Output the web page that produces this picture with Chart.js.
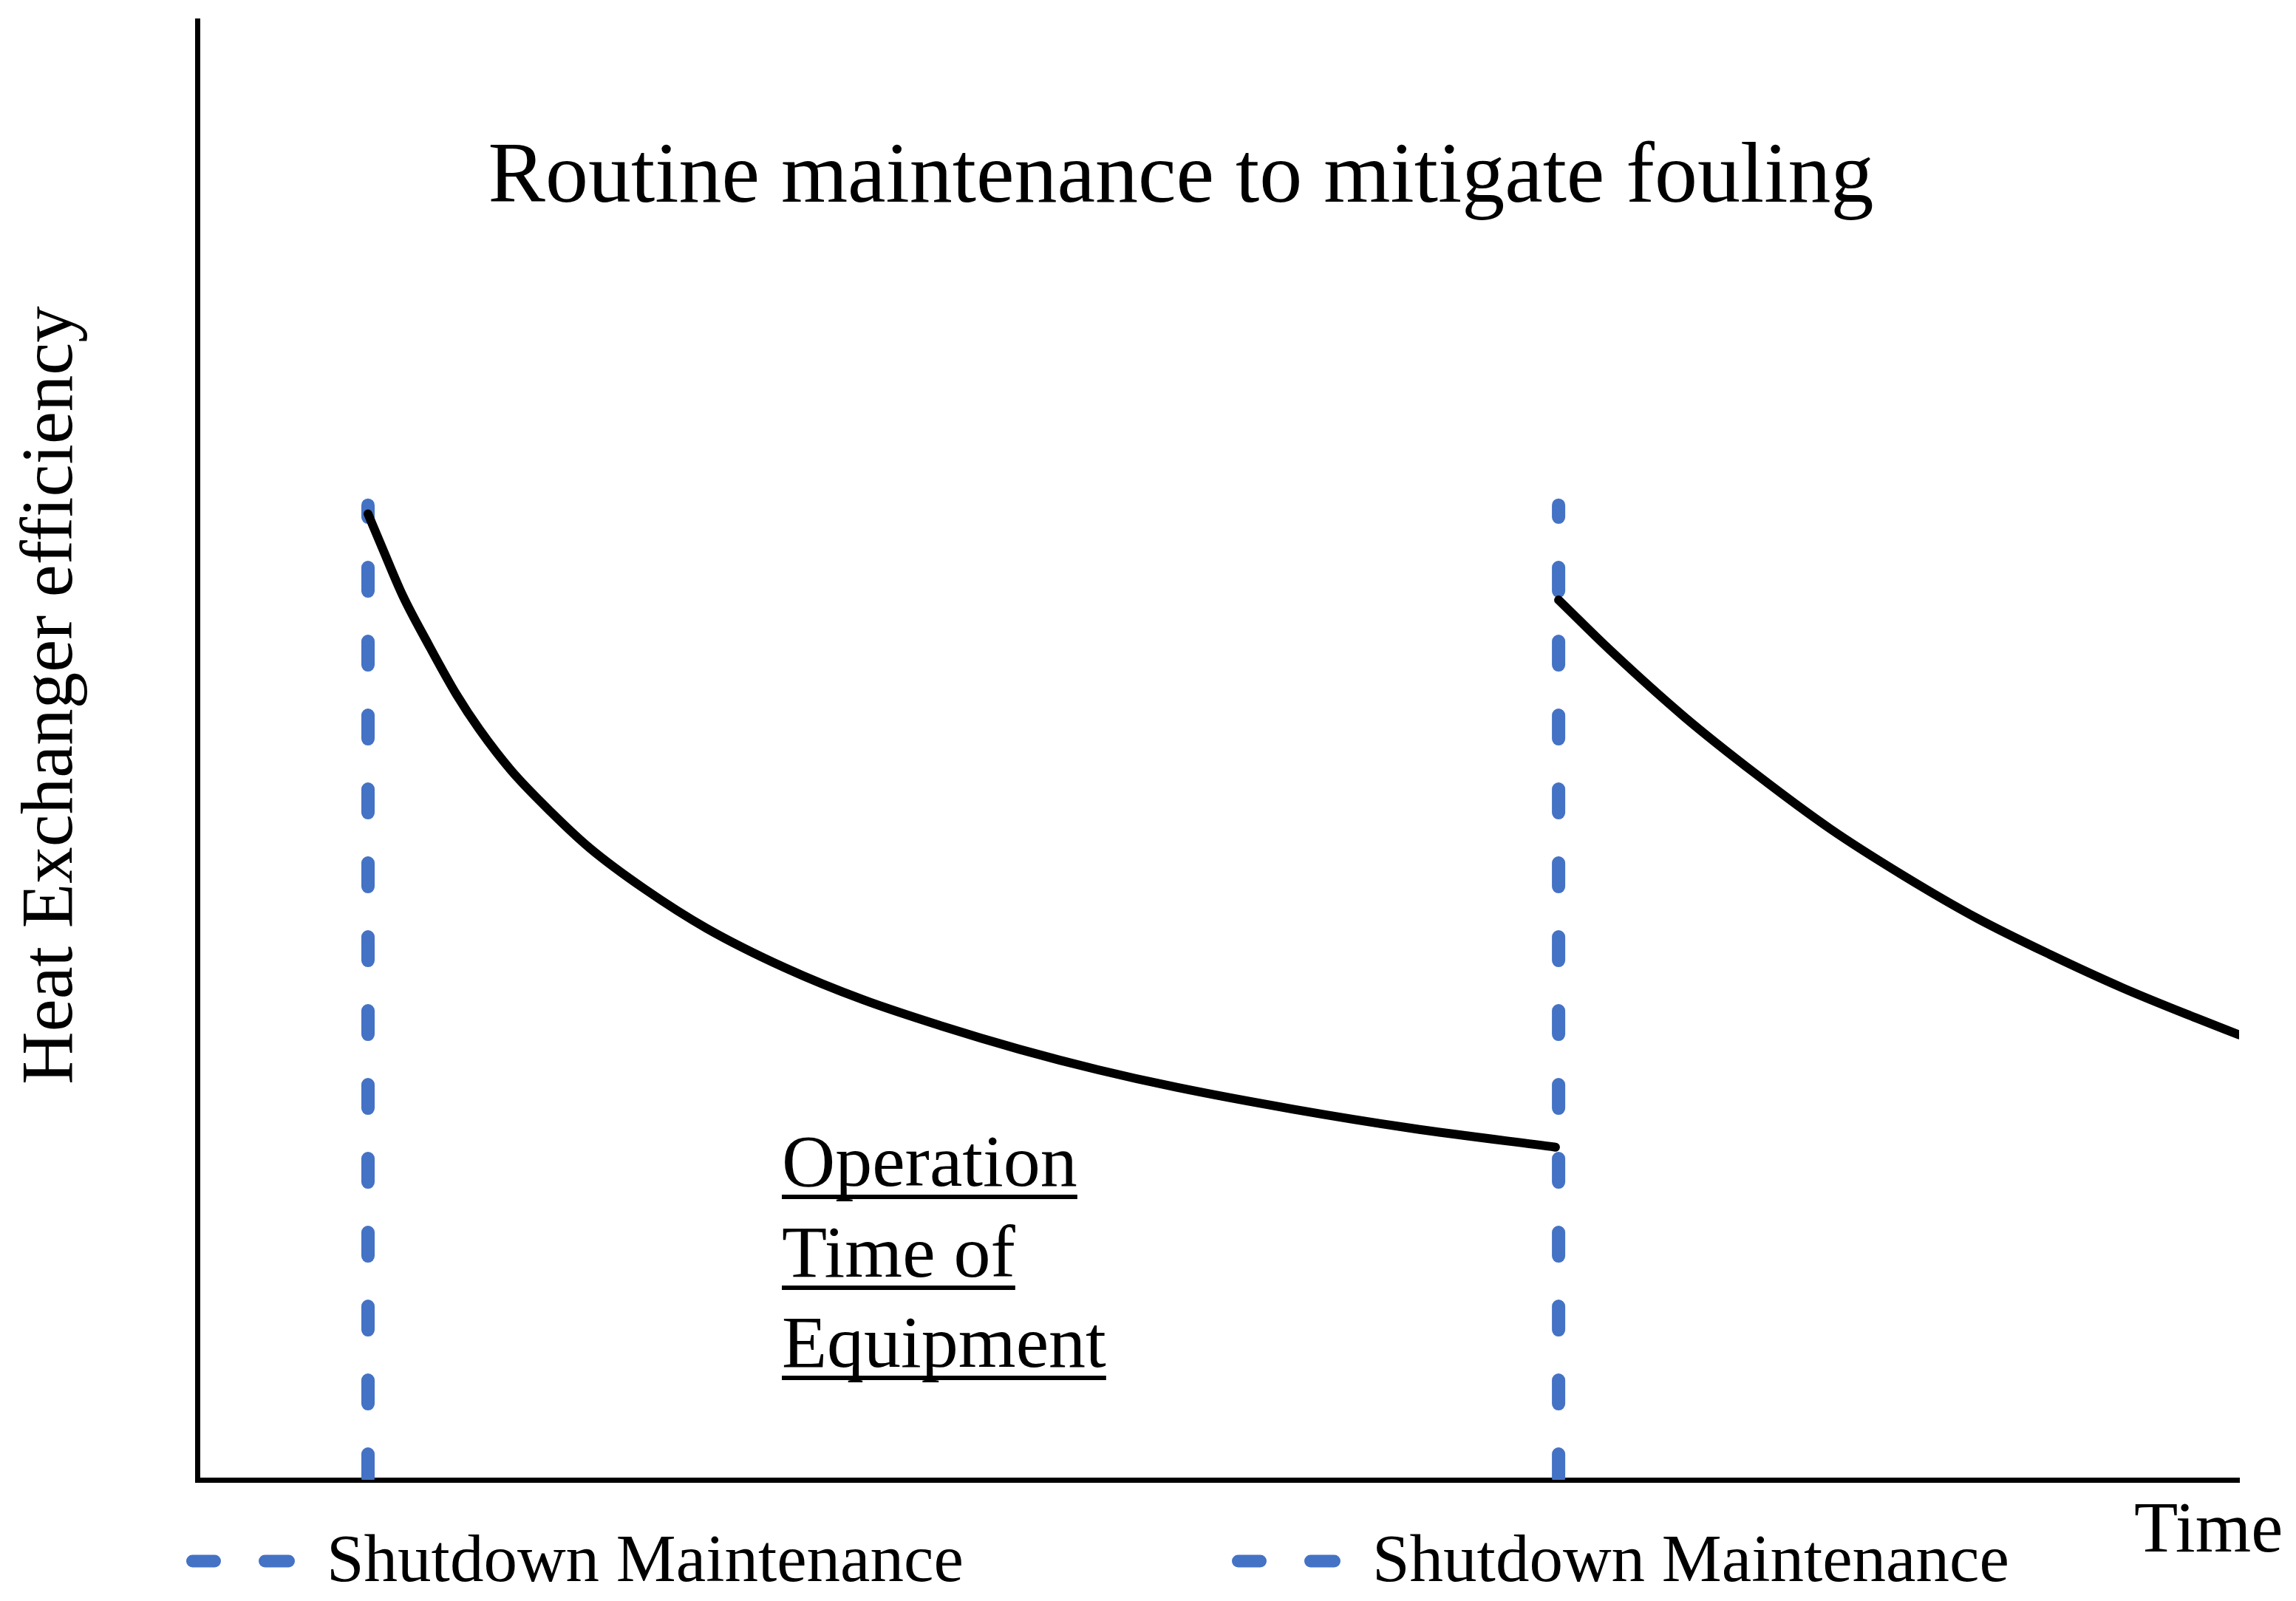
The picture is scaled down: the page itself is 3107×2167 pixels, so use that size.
<!DOCTYPE html>
<html>
<head>
<meta charset="utf-8">
<title>Routine maintenance to mitigate fouling</title>
<script src="https://cdn.jsdelivr.net/npm/chart.js@4.4.1/dist/chart.umd.min.js"></script>
<style>
  html, body { margin: 0; padding: 0; background: #fff; }
  #wrap { width: 3107px; height: 2167px; }
</style>
</head>
<body>
<div id="wrap"><canvas id="foulingChart" width="3107" height="2167"></canvas></div>
<script>
// DATA (time on x, efficiency on y, both 0-100 arbitrary units)
const runTime1 = [8.36, 9.05, 10.06, 11.3, 12.70, 13.83, 15.38, 17.30, 19.22, 21.90, 24.94, 28.77, 32.61, 36.45, 40.28, 44.12, 47.96, 53.67, 59.43, 66.52];
const runEff1  = [66.2, 63.9, 60.6, 57.3, 53.8, 51.4, 48.6, 45.8, 43.3, 40.5, 37.8, 35.1, 32.9, 31.1, 29.5, 28.1, 26.9, 25.4, 24.1, 22.8];
const runTime2 = [66.67, 69.24, 72.82, 76.40, 79.99, 83.57, 87.15, 90.74, 94.32, 97.90, 100];
const runEff2  = [60.3, 56.8, 52.3, 48.3, 44.6, 41.4, 38.5, 36.0, 33.7, 31.65, 30.5];
const shutdownTimes = [8.36, 66.67];
const shutdownRange = [0.15, 66.8];
const shutdownLabel = 'Shutdown Maintenance';

const titleText = 'Routine maintenance to mitigate fouling';
const yLabel = 'Heat Exchanger efficiency';
const xLabel = 'Time';
const noteLines = ['Operation', 'Time of', 'Equipment'];

const SERIF = '"Liberation Serif", "Times New Roman", Times, serif';
const BLUE = '#4472C4';

const toPoints = (xs, ys) => xs.map((x, i) => ({ x: x, y: ys[i] }));

const runStyle = {
    borderColor: '#000',
    borderWidth: 12,
    borderCapStyle: 'round',
    borderJoinStyle: 'round',
    pointRadius: 0,
    cubicInterpolationMode: 'monotone',
    fill: false
};

const shutdownSets = shutdownTimes.map(t => ({
    label: shutdownLabel,
    // drawn bottom -> top so the dash pattern starts at the axis
    data: [{ x: t, y: shutdownRange[0] }, { x: t, y: shutdownRange[1] }],
    borderColor: BLUE,
    borderWidth: 18,
    borderDash: [32, 68],
    borderCapStyle: 'round',
    pointRadius: 0,
    fill: false
}));

// texts and legend drawn on top of the chart
const annotations = {
    id: 'annotations',
    afterDraw(chart) {
        const c = chart.ctx;
        c.save();
        c.fillStyle = '#000';
        c.textBaseline = 'alphabetic';

        c.font = '116px ' + SERIF;
        c.textAlign = 'center';
        c.fillText(titleText, 1598, 273);

        c.save();
        c.translate(97, 941);
        c.rotate(-Math.PI / 2);
        c.font = '99px ' + SERIF;
        c.fillText(yLabel, 0, 0);
        c.restore();

        c.textAlign = 'left';
        c.font = '97px ' + SERIF;
        c.fillText(xLabel, 2888, 2100);

        // underlined note
        c.font = '100px ' + SERIF;
        const baselines = [1605, 1728, 1850];
        noteLines.forEach((line, i) => {
            c.fillText(line, 1058, baselines[i]);
            const w = c.measureText(line).width;
            c.fillRect(1058, baselines[i] + 12, w, 6);
        });

        // legend entries, one per shutdown dataset
        const legendX = [252, 1667];
        c.font = '91px ' + SERIF;
        chart.data.datasets.filter(d => d.label === shutdownLabel).forEach((d, i) => {
            const x0 = legendX[i];
            c.strokeStyle = d.borderColor;
            c.lineWidth = 17;
            c.lineCap = 'round';
            c.beginPath();
            c.moveTo(x0 + 8.5, 2113); c.lineTo(x0 + 38.5, 2113);
            c.moveTo(x0 + 106.5, 2113); c.lineTo(x0 + 138.5, 2113);
            c.stroke();
            c.fillText(d.label, x0 + 190, 2140);
        });
        c.restore();
    }
};

const ctx = document.getElementById('foulingChart').getContext('2d');

const chart = new Chart(ctx, {
    type: 'line',
    data: {
        datasets: [
            Object.assign({ label: 'Run 1', data: toPoints(runTime1, runEff1), clip: false }, runStyle),
            Object.assign({ label: 'Run 2', data: toPoints(runTime2, runEff2), clip: 0 }, runStyle),
            ...shutdownSets
        ]
    },
    options: {
        responsive: false,
        animation: false,
        devicePixelRatio: 1,
        layout: { padding: { left: 267, right: 77, top: 28, bottom: 164 } },
        plugins: {
            legend: { display: false },
            tooltip: { enabled: false },
            title: { display: false }
        },
        scales: {
            x: {
                type: 'linear',
                min: 0,
                max: 100,
                grid: { display: false, drawTicks: false },
                ticks: { display: false },
                border: { display: true, color: '#000', width: 7 }
            },
            y: {
                type: 'linear',
                min: 0,
                max: 100,
                grid: { display: false, drawTicks: false },
                ticks: { display: false },
                border: { display: true, color: '#000', width: 7 }
            }
        }
    },
    plugins: [annotations]
});
</script>
</body>
</html>
